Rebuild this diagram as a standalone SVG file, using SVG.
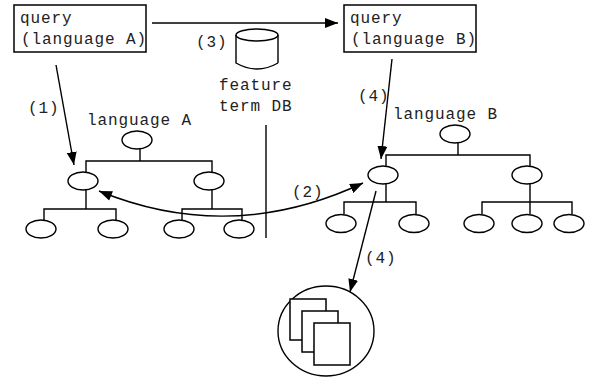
<svg xmlns="http://www.w3.org/2000/svg" width="593" height="380" viewBox="0 0 593 380">
<style>
text{font-family:"Liberation Mono",monospace;font-size:16px;letter-spacing:.9px;fill:#222}
.s{fill:none;stroke:#000;stroke-width:1.4}
.b{fill:#fff;stroke:#000;stroke-width:1.5}
.a{fill:none;stroke:#000;stroke-width:1.4;marker-end:url(#h)}
.d{fill:none;stroke:#000;stroke-width:1.4;marker-start:url(#hs);marker-end:url(#h)}
</style>
<defs>
<marker id="h" markerUnits="userSpaceOnUse" markerWidth="14" markerHeight="10" refX="13" refY="5" orient="auto"><path d="M0,0L13,5L0,10z" fill="#000"/></marker>
<marker id="hs" markerUnits="userSpaceOnUse" markerWidth="14" markerHeight="10" refX="0" refY="5" orient="auto"><path d="M13,0L0,5L13,10z" fill="#000"/></marker>
</defs>
<rect width="593" height="380" fill="#fff"/>
<g id="query-a"><rect class="b" x="14" y="5" width="132" height="47"/><text x="20" y="23">query</text><text x="21" y="44">(language A)</text></g>
<g id="query-b"><rect class="b" x="344" y="5" width="132" height="47"/><text x="350" y="23">query</text><text x="351" y="44">(language B)</text></g>
<g id="db"><path class="s" d="M236,35V63Q257,75 278,63M278,35V63"/><ellipse class="s" cx="257" cy="35" rx="21" ry="6"/><text x="219" y="90">feature</text><text x="219" y="111">term DB</text></g>
<g id="tree-a">
<path class="s" d="M140,149V161M86,172V161H212V172M86,190V209M44,220V209H116V220M212,190V209M182,220V209H242V220"/>
<ellipse class="s" cx="137" cy="140" rx="15" ry="9"/><ellipse class="s" cx="83" cy="181" rx="15" ry="9"/><ellipse class="s" cx="209" cy="181" rx="15" ry="9"/>
<ellipse class="s" cx="41" cy="229" rx="15" ry="9"/><ellipse class="s" cx="113" cy="229" rx="15" ry="9"/><ellipse class="s" cx="179" cy="229" rx="15" ry="9"/><ellipse class="s" cx="239" cy="229" rx="15" ry="9"/>
<text x="87" y="125">language A</text></g>
<g id="tree-b">
<path class="s" d="M458,142V155M386,167V155H530V167M386,184V202M344,214V202H416V214M530,184V202M482,214V202H572V214M530,202V214"/>
<ellipse class="s" cx="455" cy="134" rx="15" ry="9"/><ellipse class="s" cx="383" cy="175" rx="15" ry="9"/><ellipse class="s" cx="527" cy="175" rx="15" ry="9"/>
<ellipse class="s" cx="341" cy="223.500" rx="15" ry="9"/><ellipse class="s" cx="414" cy="223.500" rx="15" ry="9"/><ellipse class="s" cx="479" cy="223.500" rx="15" ry="9"/><ellipse class="s" cx="527" cy="223.500" rx="15" ry="9"/><ellipse class="s" cx="569" cy="223.500" rx="15" ry="9"/>
<text x="393" y="119">language B</text></g>
<g id="documents"><ellipse class="s" cx="326" cy="331" rx="48" ry="45"/><rect class="b" x="290" y="299" width="36" height="41"/><rect class="b" x="302" y="311" width="36" height="41"/><rect class="b" x="314" y="323" width="36" height="42"/></g>
<g id="connectors">
<path class="a" d="M152,23H338"/>
<path class="a" d="M56,65L74,165"/>
<path class="a" d="M392,59L381,159"/>
<path class="a" d="M376,191L350,292"/>
<path class="d" d="M99,191Q231,245 363,183"/>
<path class="s" d="M266,125V238"/>
</g>
<g id="labels"><text x="28" y="113">(1)</text><text x="292" y="197">(2)</text><text x="196" y="47">(3)</text><text x="358" y="101">(4)</text><text x="365" y="263">(4)</text></g>
</svg>
